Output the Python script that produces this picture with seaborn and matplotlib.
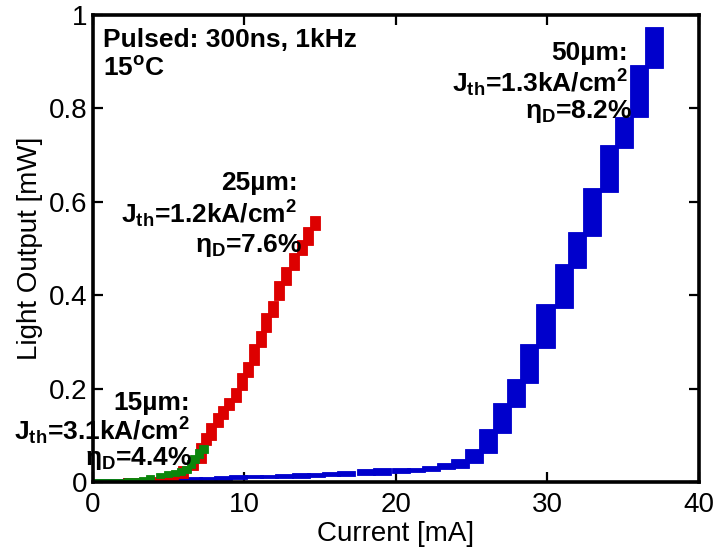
import numpy as np
import pandas as pd
import matplotlib
matplotlib.use("Agg")
import matplotlib.pyplot as plt
import seaborn as sns
from matplotlib.ticker import FormatStrFormatter

# ---------------- data ----------------
# 50 um device: current step centre [mA], lower / upper light output [mW]
blue_x = [0.6, 1.6, 2.6, 3.6, 4.6, 5.6, 6.6, 7.6, 8.6, 9.6, 10.6, 11.6, 12.6,
          13.7, 14.7, 15.7, 16.7, 18.0, 19.1, 20.3, 21.3, 22.3, 23.3, 24.2,
          25.15, 26.07, 27.03, 27.95, 28.81, 29.87, 31.06, 31.98, 32.94,
          34.03, 35.08, 36.07, 37.03]
blue_lo = [0.000, 0.000, 0.000, 0.001, 0.002, 0.003, 0.004, 0.004, 0.005,
           0.007, 0.008, 0.008, 0.008, 0.009, 0.010, 0.012, 0.012, 0.014,
           0.016, 0.020, 0.021, 0.023, 0.027, 0.031, 0.040, 0.062, 0.104,
           0.160, 0.211, 0.286, 0.372, 0.458, 0.526, 0.622, 0.715, 0.781, 0.886]
blue_hi = [0.006, 0.007, 0.008, 0.009, 0.009, 0.010, 0.010, 0.011, 0.012,
           0.014, 0.015, 0.016, 0.017, 0.019, 0.020, 0.021, 0.023, 0.027,
           0.029, 0.030, 0.031, 0.034, 0.040, 0.049, 0.070, 0.113, 0.169,
           0.220, 0.295, 0.381, 0.466, 0.535, 0.629, 0.721, 0.781, 0.893, 0.974]

# 25 um device
red_x = [2.3, 2.9, 3.5, 4.1, 4.7, 5.3, 5.97, 6.63, 7.10, 7.43, 7.82, 8.22,
         8.58, 9.01, 9.47, 9.84, 10.23, 10.63, 11.06, 11.45, 11.85, 12.31,
         12.74, 13.27, 13.80, 14.22, 14.65]
red_lo = [0.000, 0.000, 0.001, 0.002, 0.004, 0.005, 0.008, 0.025, 0.040,
          0.079, 0.091, 0.117, 0.134, 0.154, 0.171, 0.196, 0.224, 0.250,
          0.289, 0.321, 0.353, 0.389, 0.421, 0.454, 0.486, 0.507, 0.539]
red_hi = [0.008, 0.008, 0.009, 0.011, 0.016, 0.019, 0.034, 0.053, 0.083,
          0.104, 0.126, 0.147, 0.162, 0.179, 0.201, 0.233, 0.258, 0.295,
          0.323, 0.361, 0.387, 0.430, 0.460, 0.490, 0.518, 0.546, 0.569]

# 15 um device
green_x = [0.3, 0.8, 1.3, 1.8, 2.3, 2.8, 3.3, 3.76, 4.42, 4.95, 5.41, 5.81,
           6.17, 6.47, 6.70, 7.00, 7.29]
green_lo = [0.000, 0.000, 0.000, 0.000, 0.000, 0.001, 0.003, 0.005, 0.008,
            0.010, 0.012, 0.014, 0.019, 0.029, 0.040, 0.051, 0.062]
green_hi = [0.007, 0.007, 0.007, 0.007, 0.008, 0.009, 0.011, 0.015, 0.019,
            0.023, 0.025, 0.029, 0.034, 0.047, 0.057, 0.070, 0.079]

x_ticks = [0, 10, 20, 30, 40]
y_ticks = [0, 0.2, 0.4, 0.6, 0.8, 1.0]

# ---------------- style ----------------
sns.set_theme(style="ticks")
plt.rcParams["font.family"] = ["Liberation Sans", "DejaVu Sans"]
plt.rcParams["mathtext.default"] = "regular"
plt.rcParams["text.color"] = "black"
plt.rcParams["axes.labelcolor"] = "black"

fig = plt.figure(figsize=(7.18, 5.55), dpi=100)
ax = fig.add_axes([0.1295, 0.1315, 0.844, 0.8415])

series = [
    (pd.DataFrame({"x": blue_x, "lo": blue_lo, "hi": blue_hi}), "#0000CC", 1.19),
    (pd.DataFrame({"x": red_x, "lo": red_lo, "hi": red_hi}), "#DD0000", 0.66),
    (pd.DataFrame({"x": green_x, "lo": green_lo, "hi": green_hi}), "#0B860B", 0.55),
]
for df, col, w in series:
    ax.bar(df["x"], df["hi"] - df["lo"], bottom=df["lo"], width=w,
           color=col, edgecolor=col, linewidth=0.6, zorder=2)

ax.set_xlim(0, 40)
ax.set_ylim(0, 1)
ax.set_xticks(x_ticks)
ax.set_yticks(y_ticks)
ax.yaxis.set_major_formatter(FormatStrFormatter("%g"))
ax.tick_params(direction="in", length=7, width=1.6, labelsize=20,
               top=True, right=True, pad=7, colors="black")
ax.tick_params(axis="y", pad=4)
for sp in ax.spines.values():
    sp.set_linewidth(2.6)
    sp.set_color("black")
    sp.set_zorder(3)

ax.set_xlabel("Current [mA]", fontsize=20, labelpad=2, color="black")
ax.set_ylabel("Light Output [mW]", fontsize=20, labelpad=4, color="black")

bold = dict(fontsize=19, fontweight="bold", color="black", va="baseline")
ax.text(0.0165, 0.931, "Pulsed: 300ns, 1kHz", transform=ax.transAxes, ha="left", **bold)
ax.text(0.0165, 0.870, "15$^{o}$C", transform=ax.transAxes, ha="left", **bold)

ax.text(35.3, 0.904, "50µm:", ha="right", **bold)
ax.text(35.3, 0.835, "J$_{th}$=1.3kA/cm$^{2}$", ha="right", **bold)
ax.text(35.6, 0.779, "η$_{D}$=8.2%", ha="right", **bold)

ax.text(13.5, 0.625, "25µm:", ha="right", **bold)
ax.text(13.5, 0.554, "J$_{th}$=1.2kA/cm$^{2}$", ha="right", **bold)
ax.text(13.8, 0.492, "η$_{D}$=7.6%", ha="right", **bold)

ax.text(6.4, 0.154, "15µm:", ha="right", **bold)
ax.text(6.4, 0.090, "J$_{th}$=3.1kA/cm$^{2}$", ha="right", **bold)
ax.text(6.55, 0.037, "η$_{D}$=4.4%", ha="right", **bold)

fig.savefig("out.png", dpi=100)
